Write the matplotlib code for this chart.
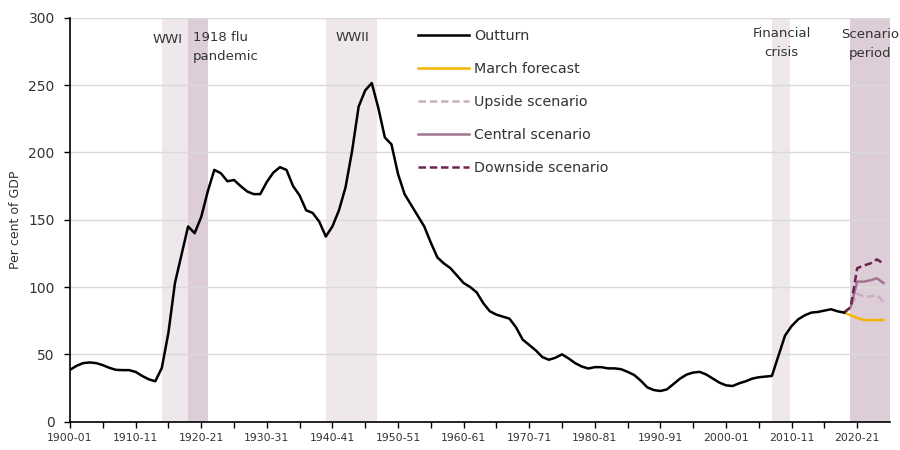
import matplotlib
matplotlib.use("Agg")
import matplotlib.pyplot as plt
import numpy as np

# ---------------- data ----------------
outturn_years = list(range(1900, 2019))
outturn_values = [
    38.5, 41.5, 43.5, 44.0, 43.5, 42.0, 40.0, 38.5, 38.3, 38.3,   # 1900-1909
    37.0, 34.0, 31.5, 30.0, 40.0, 66.0, 103.0, 124.0, 145.0, 140.0,  # 1910-1919
    152.0, 171.0, 187.0, 184.5, 178.5, 179.5, 175.0, 171.0, 169.0, 169.0,  # 1920-1929
    178.0, 185.0, 189.0, 187.0, 175.0, 168.0, 157.0, 155.0, 148.5, 137.5,  # 1930-1939
    145.0, 157.0, 174.0, 201.0, 234.0, 246.0, 251.5, 233.0, 211.0, 206.0,  # 1940-1949
    184.0, 169.0, 161.0, 153.0, 145.0, 133.0, 122.0, 117.5, 114.0, 108.5,  # 1950-1959
    103.0, 100.0, 96.0, 88.0, 82.0, 79.5, 78.0, 76.5, 70.0, 61.0,  # 1960-1969
    57.0, 53.0, 48.0, 46.0, 47.5, 50.0, 47.0, 43.5, 41.0, 39.5,  # 1970-1979
    40.5, 40.5, 39.6, 39.6, 39.0, 37.0, 34.7, 30.5, 25.5, 23.5,  # 1980-1989
    22.8, 24.0, 28.0, 32.0, 35.0, 36.5, 37.0, 35.0, 32.0, 29.0,  # 1990-1999
    27.0, 26.5, 28.5, 30.0, 32.0, 33.0, 33.5, 34.0, 49.0, 64.0,  # 2000-2009
    71.0, 76.0, 79.0, 81.0, 81.5, 82.5, 83.5, 82.0, 81.0,        # 2010-2018
]

scen_years = [2018, 2019, 2020, 2021, 2022, 2023, 2024]
march_forecast = [81.0, 79.0, 77.0, 75.5, 75.5, 75.5, 75.5]
upside = [81.0, 85.0, 95.0, 93.0, 93.0, 94.0, 89.0]
central = [81.0, 85.0, 104.0, 104.0, 105.0, 106.5, 103.0]
downside = [81.0, 85.0, 114.0, 116.0, 117.5, 120.5, 117.5]

light_bands = [("WWI", 1914, 1918), ("WWII", 1939, 1946.8), ("Financial crisis", 2007, 2009.7)]
dark_bands = [("1918 flu pandemic", 1918, 1921), ("Scenario period", 2018.9, 2025)]

tick_years = list(range(1900, 2025, 5))
label_years = list(range(1900, 2025, 10))

# ---------------- style ----------------
plt.rcParams['font.family'] = ['DejaVu Sans']
txt_col = "#333333"
light_shade = "#EEE7EB"
dark_shade = "#DDCDD7"

fig = plt.figure(figsize=(9, 4.5), dpi=100)
ax = fig.add_axes([70 / 900, 1 - 421.7 / 450, 820 / 900, 404 / 450])

for _, a, b in light_bands:
    ax.axvspan(a, b, color=light_shade, lw=0, zorder=0)
for _, a, b in dark_bands:
    ax.axvspan(a, b, color=dark_shade, lw=0, zorder=0)

ax.set_yticks(range(0, 301, 50))
ax.yaxis.grid(True, color="#D9D9D9", lw=1.0, zorder=1)
ax.set_axisbelow(True)

ax.plot(outturn_years, outturn_values, color="black", lw=1.8, label="Outturn", zorder=5)
ax.plot(scen_years, march_forecast, color="#F5B400", lw=1.8, label="March forecast", zorder=4)
ax.plot(scen_years, upside, color="#C9AEBF", lw=1.8, ls=(0, (3, 1.5)), label="Upside scenario", zorder=4)
ax.plot(scen_years, central, color="#A07690", lw=1.8, label="Central scenario", zorder=4)
ax.plot(scen_years, downside, color="#6E2250", lw=1.8, ls=(0, (3, 1.5)), label="Downside scenario", zorder=4)

ax.set_xlim(1900, 2025)
ax.set_ylim(0, 300)
ax.set_xticks(tick_years)
ax.set_xticklabels([f"{y}-{str(y + 1)[-2:]}" if y in label_years else "" for y in tick_years])
ax.tick_params(axis="x", direction="out", length=4, width=1, colors="black", labelcolor=txt_col,
               labelsize=7.8, pad=4)
ax.tick_params(axis="y", direction="out", length=4, width=1, colors="black", labelcolor=txt_col,
               labelsize=10, pad=7)

for s in ["top", "right"]:
    ax.spines[s].set_visible(False)
ax.spines["left"].set_linewidth(1.2)
ax.spines["bottom"].set_linewidth(1.2)

ax.set_ylabel("Per cent of GDP", fontsize=9, color=txt_col)
ax.yaxis.set_label_coords(-0.058, 0.5)

# band annotations
ann_kw = dict(fontsize=9.5, color=txt_col, va="top", linespacing=1.6)
ax.text(1917.2, 289, "WWI", ha="right", **ann_kw)
ax.text(1918.75, 290, "1918 flu\npandemic", ha="left", **ann_kw)
ax.text(1943.0, 290, "WWII", ha="center", **ann_kw)
ax.text(2008.5, 293, "Financial\ncrisis", ha="center", **ann_kw)
ax.text(2022.0, 292, "Scenario\nperiod", ha="center", **ann_kw)

leg = ax.legend(loc="upper left", bbox_to_anchor=(0.424, 0.972), frameon=False,
                fontsize=10.3, handlelength=3.6, handletextpad=0.35, labelspacing=1.32,
                borderpad=0, borderaxespad=0)
for t in leg.get_texts():
    t.set_color(txt_col)

fig.savefig("out.png", dpi=100)
